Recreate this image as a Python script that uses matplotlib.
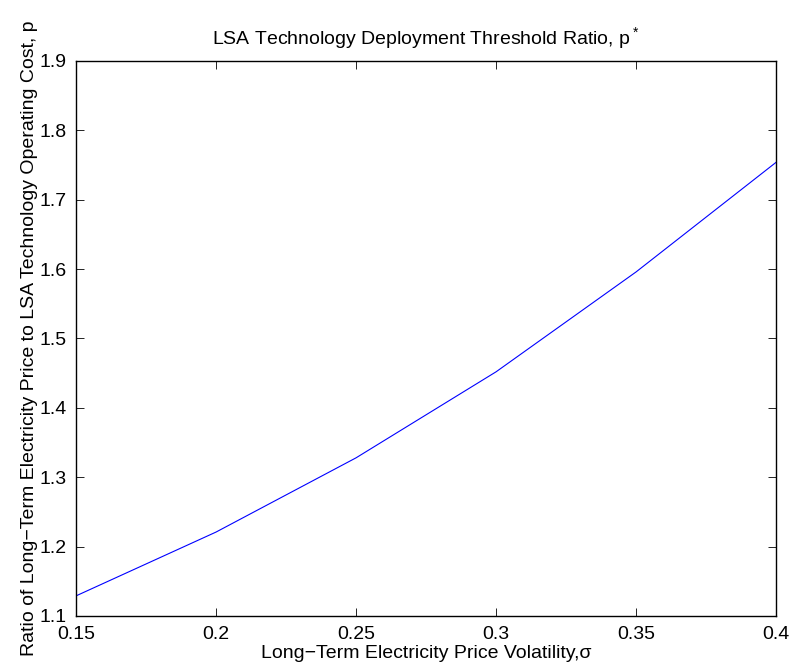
import matplotlib
matplotlib.use('Agg')
import matplotlib.pyplot as plt

# volatility vs threshold ratio
sigma = [0.15, 0.20, 0.25, 0.30, 0.35, 0.40]
p_star = [1.129, 1.221, 1.328, 1.452, 1.596, 1.754]

x_ticks = [0.15, 0.2, 0.25, 0.3, 0.35, 0.4]
x_tick_labels = ['0.15', '0.2', '0.25', '0.3', '0.35', '0.4']
y_ticks = [1.1, 1.2, 1.3, 1.4, 1.5, 1.6, 1.7, 1.8, 1.9]
y_tick_labels = ['1.1', '1.2', '1.3', '1.4', '1.5', '1.6', '1.7', '1.8', '1.9']

plt.rcParams['font.family'] = ['Liberation Sans', 'DejaVu Sans']
plt.rcParams['mathtext.default'] = 'regular'
plt.rcParams['font.size'] = 14

fig = plt.figure(figsize=(7.92, 6.70), dpi=100)
ax = fig.add_axes([0.096, 0.0806, 0.884, 0.8284])

ax.plot(sigma, p_star, color=(0, 0, 1), linewidth=0.8)

ax.set_xlim(0.15, 0.4)
ax.set_ylim(1.1, 1.9)
ax.set_xticks(x_ticks)
ax.set_xticklabels(x_tick_labels)
ax.set_yticks(y_ticks)
ax.set_yticklabels(y_tick_labels)
ax.tick_params(direction='in', top=True, right=True, length=6, width=0.6, pad=7)
for s in ax.spines.values():
    s.set_linewidth(1.0)

ax.set_title('LSA Technology Deployment Threshold Ratio, p$^*$', fontsize=14, pad=12)
ax.set_xlabel('Long\u2212Term Electricity Price Volatility,\u03c3', labelpad=2)
ax.set_ylabel('Ratio of Long\u2212Term Electricity Price to LSA Technology Operating Cost, p',
              fontsize=14, labelpad=1)

fig.savefig('out.png', dpi=100)
